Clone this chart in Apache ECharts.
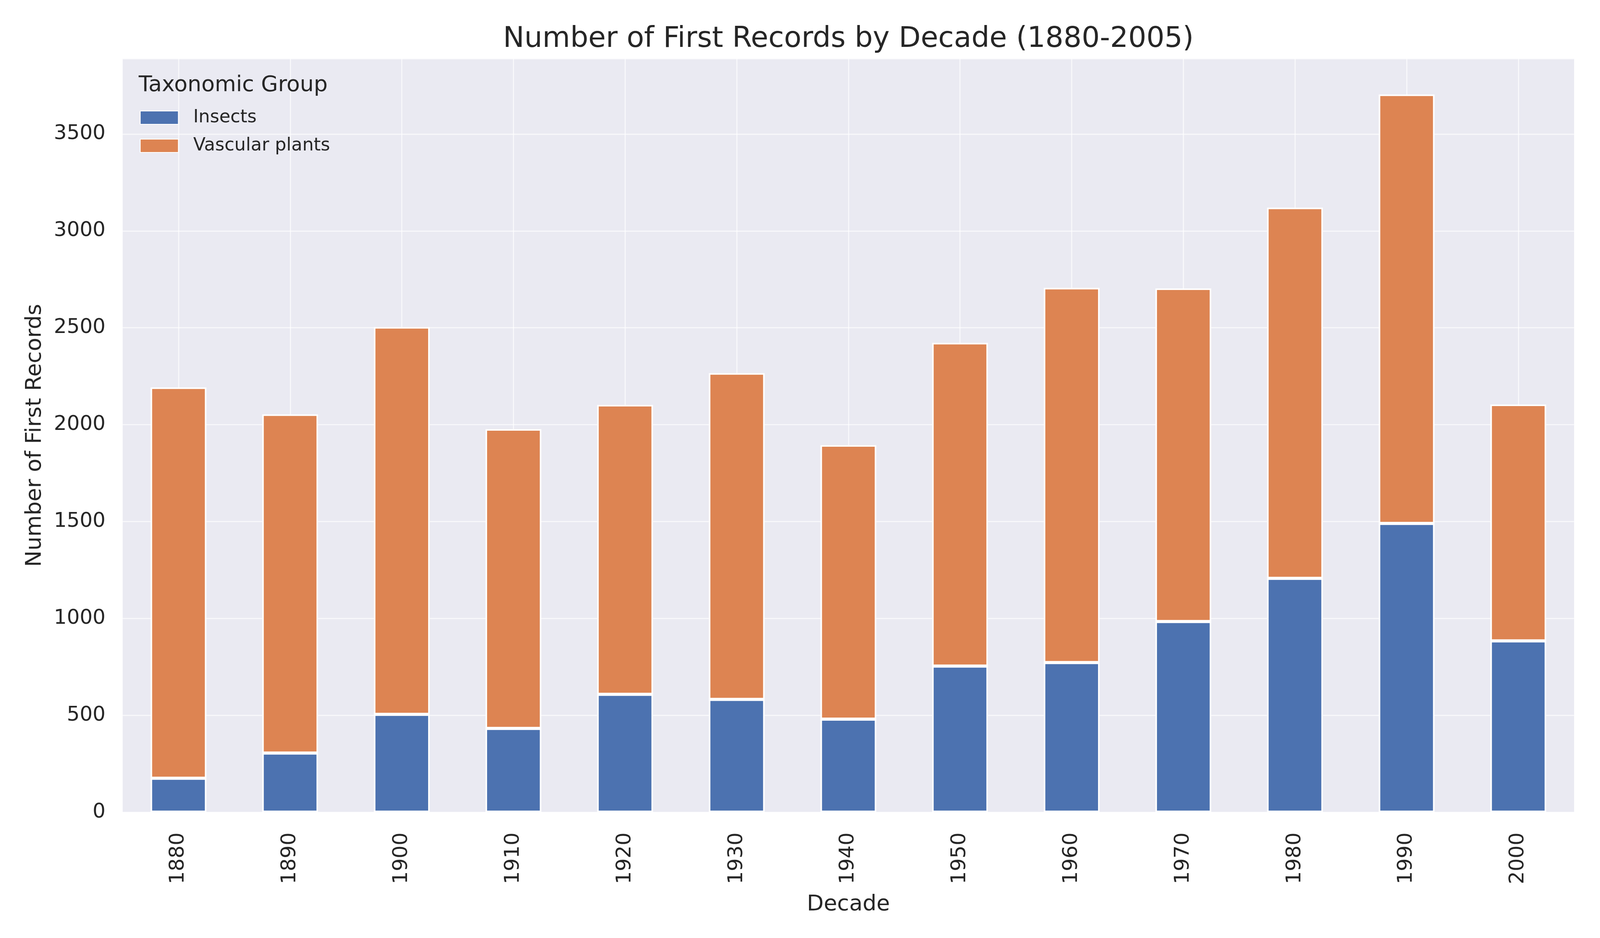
<!DOCTYPE html>
<html>
<head>
<meta charset="utf-8">
<title>Number of First Records by Decade</title>
<script src="https://cdn.jsdelivr.net/npm/echarts@6/dist/echarts.min.js"></script>
<style>
  html, body { margin: 0; padding: 0; background: #fff; overflow: hidden; }
  #chart { width: 100vw; height: 100vh; }
</style>
</head>
<body>
<div id="chart"></div>
<script>
// values
const decades = ['1880', '1890', '1900', '1910', '1920', '1930', '1940', '1950', '1960', '1970', '1980', '1990', '2000'];
const insects = [175, 305, 505, 432, 608, 582, 480, 754, 772, 984, 1207, 1490, 884];
const vascularPlants = [2017, 1748, 1999, 1545, 1494, 1684, 1414, 1668, 1934, 1719, 1913, 2214, 1220];
const seriesNames = ['Insects', 'Vascular plants'];

const FONT = '"DejaVu Sans", sans-serif';
const TEXT = '#262626';

const chart = echarts.init(document.getElementById('chart'));

// layout was measured on a 4200x2400 picture, scale it to the real window
const sx = chart.getWidth() / 4200;
const sy = chart.getHeight() / 2400;
const sf = Math.min(sx, sy);
const X = v => v * sx;
const Y = v => v * sy;
const F = v => Math.round(v * sf);

chart.setOption({
  animation: false,
  backgroundColor: '#ffffff',
  color: ['#4C72B0', '#DD8452'],
  textStyle: { fontFamily: FONT, color: TEXT },
  graphic: [
    {
      type: 'text', x: X(2227), y: Y(101),
      style: { text: 'Number of First Records by Decade (1880-2005)', fontSize: F(75), fontFamily: FONT, fill: TEXT, align: 'center', verticalAlign: 'middle' }
    },
    {
      type: 'text', x: X(364), y: Y(218), z: 100,
      style: { text: 'Taxonomic Group', fontSize: F(57), fontFamily: FONT, fill: TEXT, align: 'left', verticalAlign: 'middle' }
    }
  ],
  legend: {
    orient: 'vertical',
    left: X(362),
    top: Y(273),
    itemWidth: X(100),
    itemHeight: Y(34),
    itemGap: Y(26),
    icon: 'rect',
    data: seriesNames,
    textStyle: { fontSize: F(47), fontFamily: FONT, color: TEXT, padding: [0, 0, 0, X(34)] }
  },
  grid: {
    left: X(322),
    right: X(68),
    top: Y(150),
    bottom: Y(322),
    show: true,
    backgroundColor: '#EAEAF2',
    borderWidth: 0
  },
  xAxis: {
    type: 'category',
    data: decades,
    name: 'Decade',
    nameLocation: 'middle',
    nameGap: Y(208),
    nameTextStyle: { fontSize: F(57), color: TEXT, fontFamily: FONT },
    axisLine: { show: false },
    axisTick: { show: false },
    axisLabel: { rotate: 90, fontSize: F(53), color: TEXT, margin: Y(52), interval: 0, fontFamily: FONT },
    splitLine: { show: true, interval: 0, alignWithLabel: true, lineStyle: { color: 'rgba(255,255,255,0.6)', width: 3 } }
  },
  yAxis: {
    type: 'value',
    min: 0,
    max: v => v.max * 1.05,
    interval: 500,
    name: 'Number of First Records',
    nameLocation: 'middle',
    nameGap: X(202),
    nameTextStyle: { fontSize: F(57), color: TEXT, fontFamily: FONT },
    axisLine: { show: false },
    axisTick: { show: false },
    axisLabel: { fontSize: F(53), color: TEXT, margin: X(45), showMaxLabel: false, fontFamily: FONT, formatter: v => String(v) },
    splitLine: { show: true, lineStyle: { color: 'rgba(255,255,255,0.6)', width: 3 } }
  },
  series: [
    {
      name: seriesNames[0],
      type: 'bar',
      stack: 'total',
      barWidth: '50%',
      data: insects,
      itemStyle: { borderColor: '#ffffff', borderWidth: 4 }
    },
    {
      name: seriesNames[1],
      type: 'bar',
      stack: 'total',
      barWidth: '50%',
      data: vascularPlants,
      itemStyle: { borderColor: '#ffffff', borderWidth: 4 }
    }
  ]
});
</script>
</body>
</html>
